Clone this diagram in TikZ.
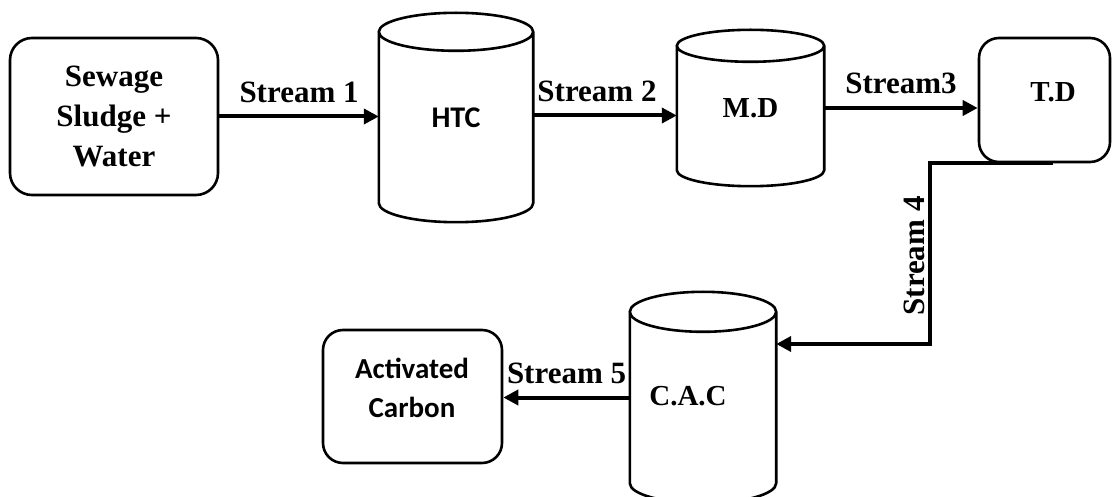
\documentclass[tikz,border=0pt]{standalone}
\usepackage{fontspec}
\setmainfont{Liberation Serif}
\newfontfamily\calibfont{Carlito}
\usetikzlibrary{arrows.meta,calc}

% one unit = 1pt; y runs upward, so positions below the top edge are negative
\tikzset{
  x=1pt, y=1pt,
  roundbox/.style={draw, line width=2.6pt, rounded corners=22pt, inner sep=0pt},
  cylbody/.style={inner sep=0pt, draw=none},
  cylline/.style={line width=2.6pt},
  flow/.style={line width=4pt, -{Triangle[length=15pt,width=15pt]}},
  serifbig/.style={font=\fontsize{31}{40}\selectfont\bfseries, align=center},
  serifmid/.style={font=\fontsize{29}{36}\selectfont\bfseries, align=center},
  sansbig/.style={font=\fontsize{29}{39}\selectfont\calibfont\bfseries, align=center},
  streamlbl/.style={font=\fontsize{31}{36}\selectfont\bfseries, inner sep=2pt},
}

% outline of a vertical drum around a body node: #1 node, #2 rim half-height (pt)
\newcommand\drawdrum[2]{%
  \draw[cylline] let \p1=(#1.north west), \p2=(#1.north east) in
    (#1.north west) -- (#1.south west)
    arc[start angle=180, end angle=360, x radius={(\x2-\x1)/2}, y radius=#2pt]
    -- (#1.north east)
    (#1.north) ellipse[x radius={(\x2-\x1)/2}, y radius=#2pt];
}

\begin{document}
\begin{tikzpicture}
\useasboundingbox (0,0) rectangle (1112,-497);
\fill[white] (0,0) rectangle (1112,-497);
\clip (0,0) rectangle (1112,-497);

% process units
\node[roundbox, serifbig, minimum width=208pt, minimum height=157pt]
  (sludge) at (114,-116.5) {Sewage\\Sludge +\\Water};

\node[cylbody, minimum width=154pt, minimum height=171pt, font=\fontsize{30}{36}\selectfont\calibfont\bfseries]
  (htc) at (456,-117.5) {HTC};
\drawdrum{htc}{19}

\node[cylbody, serifmid, minimum width=147pt, minimum height=124pt]
  (md) at (750.5,-108) {M.D};
\drawdrum{md}{16}

\node[roundbox, rounded corners=20pt, minimum width=131pt, minimum height=124pt]
  (td) at (1044.5,-100) {};
\node[serifmid] (tdtxt) at (1053,-92) {T.D};

\node[cylbody, minimum width=146pt, minimum height=171pt]
  (cac) at (703,-397.5) {};
\drawdrum{cac}{20}
\node[serifmid] (cactxt) at (688,-396) {C.A.C};

\node[roundbox, rounded corners=20pt, minimum width=179pt, minimum height=133pt]
  (ac) at (412.5,-396.5) {};
\node[sansbig] (actxt) at (412,-388) {Activated\\Carbon};

% streams
\draw[flow] (sludge.east) -- (sludge.east -| htc.west)
  node[midway, above=10pt, streamlbl] {Stream 1};
\draw[flow] ([yshift=2pt]htc.east) -- ([yshift=2pt]htc.east -| md.west)
  node[midway, above=10pt, streamlbl, xshift=-8pt] {Stream 2};
\draw[flow] (md.east) -- (md.east -| td.west)
  node[midway, above=10pt, streamlbl] {Stream3};

\coordinate (k4) at (930,-344);
\draw[flow] ([xshift=8pt]td.south) -| (k4) -- (k4 -| cac.east);
\node[streamlbl, rotate=90, anchor=south, inner sep=5pt] (s4) at (930,-256) {Stream 4};

\draw[flow] (cac.west) -- (cac.west -| ac.east)
  node[midway, above=10pt, streamlbl] {Stream 5};
\end{tikzpicture}
\end{document}
